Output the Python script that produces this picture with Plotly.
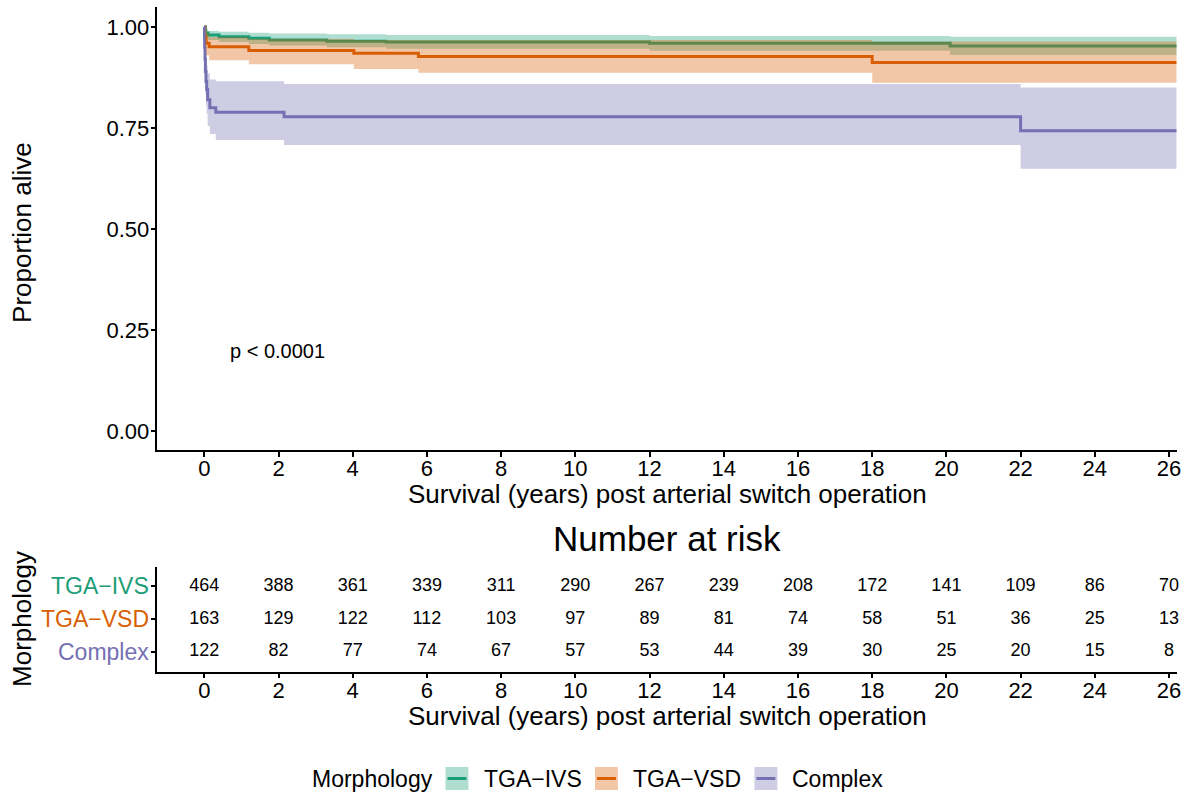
import plotly.graph_objects as go

# ---------------- data ----------------
groups = ["TGA\u2212IVS", "TGA\u2212VSD", "Complex"]
line_colors = ["#1B9E77", "#D95F02", "#7570B3"]
fill_colors = ["rgba(27,158,119,0.35)", "rgba(217,95,2,0.35)", "rgba(117,112,179,0.35)"]

ivs_time = [0, 0.03, 0.1, 0.4, 1.2, 1.75, 3.3, 4.9, 12.0, 20.1, 26.2]
ivs_surv = [1.0, 0.985, 0.980, 0.976, 0.972, 0.968, 0.965, 0.963, 0.960, 0.953, 0.953]
ivs_upper = [1.0, 0.995, 0.990, 0.988, 0.986, 0.984, 0.982, 0.980, 0.978, 0.976, 0.976]
ivs_lower = [1.0, 0.975, 0.968, 0.963, 0.958, 0.954, 0.950, 0.946, 0.941, 0.931, 0.931]

vsd_time = [0, 0.02, 0.05, 0.13, 1.2, 4.03, 5.77, 18.0, 26.2]
vsd_surv = [1.0, 0.975, 0.960, 0.951, 0.942, 0.935, 0.927, 0.912, 0.912]
vsd_upper = [1.0, 0.995, 0.985, 0.975, 0.970, 0.968, 0.968, 0.964, 0.964]
vsd_lower = [1.0, 0.950, 0.930, 0.918, 0.908, 0.896, 0.887, 0.862, 0.862]

cpx_time = [0, 0.005, 0.01, 0.02, 0.03, 0.045, 0.065, 0.09, 0.15, 0.31, 2.15, 22.0, 26.2]
cpx_surv = [1.0, 0.975, 0.95, 0.92, 0.89, 0.865, 0.845, 0.82, 0.80, 0.789, 0.778, 0.743, 0.743]
cpx_upper = [1.0, 1.0, 0.99, 0.97, 0.945, 0.925, 0.905, 0.885, 0.87, 0.866, 0.859, 0.850, 0.850]
cpx_lower = [1.0, 0.945, 0.91, 0.87, 0.835, 0.805, 0.785, 0.755, 0.735, 0.720, 0.708, 0.649, 0.649]

risk_times = [0, 2, 4, 6, 8, 10, 12, 14, 16, 18, 20, 22, 24, 26]
ivs_risk = [464, 388, 361, 339, 311, 290, 267, 239, 208, 172, 141, 109, 86, 70]
vsd_risk = [163, 129, 122, 112, 103, 97, 89, 81, 74, 58, 51, 36, 25, 13]
cpx_risk = [122, 82, 77, 74, 67, 57, 53, 44, 39, 30, 25, 20, 15, 8]

y_ticks = [0.0, 0.25, 0.5, 0.75, 1.0]
y_ticklabels = ["0.00", "0.25", "0.50", "0.75", "1.00"]
p_text = "p < 0.0001"

curves = [
    (ivs_time, ivs_surv, ivs_upper, ivs_lower),
    (vsd_time, vsd_surv, vsd_upper, vsd_lower),
    (cpx_time, cpx_surv, cpx_upper, cpx_lower),
]
risks = [ivs_risk, vsd_risk, cpx_risk]

# ---------------- layout geometry ----------------
W, H = 1187, 794
FONT = "Liberation Sans, Arial, sans-serif"
xdom = [158 / W, 1181 / W]
main_dom = [1 - 450 / H, 1 - 6.8 / H]
risk_dom = [1 - 671.7 / H, 1 - 566.7 / H]
xrange_ = [-1.262, 26.215]

fig = go.Figure()

# lines first (ribbons drawn on top, as in the reference)
for (t, s, u, l), g, c in zip(curves, groups, line_colors):
    fig.add_trace(go.Scatter(x=t, y=s, mode="lines", line=dict(color=c, width=3, shape="hv"),
                             name=g, showlegend=False, xaxis="x", yaxis="y", hoverinfo="skip"))
for (t, s, u, l), g, fc in zip(curves, groups, fill_colors):
    fig.add_trace(go.Scatter(x=t, y=l, mode="lines", line=dict(width=0, shape="hv"),
                             showlegend=False, xaxis="x", yaxis="y", hoverinfo="skip"))
    fig.add_trace(go.Scatter(x=t, y=u, mode="lines", line=dict(width=0, shape="hv"),
                             fill="tonexty", fillcolor=fc, showlegend=False,
                             xaxis="x", yaxis="y", hoverinfo="skip"))

# risk table
for i, (r, g) in enumerate(zip(risks, groups)):
    fig.add_trace(go.Scatter(x=risk_times, y=[3 - i] * len(r), mode="text", cliponaxis=False,
                             text=[str(v) for v in r], textfont=dict(size=18, color="black", family=FONT),
                             showlegend=False, xaxis="x2", yaxis="y2", hoverinfo="skip"))

axis_common = dict(showgrid=False, zeroline=False, showline=True, linecolor="black", linewidth=1.5,
                   ticks="outside", ticklen=5, tickwidth=1.5, tickcolor="black",
                   tickfont=dict(size=22, color="black", family=FONT))

fig.update_layout(
    width=W, height=H, margin=dict(l=0, r=0, t=0, b=0),
    paper_bgcolor="white", plot_bgcolor="white",
    font=dict(family=FONT, color="black"),
    xaxis=dict(domain=xdom, range=xrange_, anchor="y", tickvals=risk_times,
               ticklabelstandoff=-7, **axis_common),
    yaxis=dict(domain=main_dom, range=[-0.047, 1.05], anchor="x", tickvals=y_ticks,
               ticktext=y_ticklabels, ticklabelstandoff=-3, **axis_common),
    xaxis2=dict(domain=xdom, range=xrange_, anchor="y2", tickvals=risk_times,
                ticklabelstandoff=-7, **axis_common),
    yaxis2=dict(domain=risk_dom, range=[0.4, 3.6], anchor="x2", tickvals=[1, 2, 3],
                showticklabels=False, **{k: v for k, v in axis_common.items() if k != "tickfont"}),
    showlegend=False,
)

TITLE = 26
ann = []
ann.append(dict(text="Proportion alive", x=22 / W, y=1 - 232 / H, xref="paper", yref="paper",
                textangle=-90, showarrow=False, font=dict(size=TITLE), xanchor="center", yanchor="middle"))
ann.append(dict(text="Survival (years) post arterial switch operation", x=669.5 / W, y=1 - 494 / H,
                xref="paper", yref="paper", showarrow=False, font=dict(size=TITLE),
                xanchor="center", yanchor="middle"))
ann.append(dict(text=p_text, x=0.64, y=0.198, xref="x", yref="y", showarrow=False,
                font=dict(size=20), xanchor="left", yanchor="middle"))
ann.append(dict(text="Number at risk", x=669.5 / W, y=1 - 538 / H, xref="paper", yref="paper",
                showarrow=False, font=dict(size=35), xanchor="center", yanchor="middle"))
ann.append(dict(text="Morphology", x=22 / W, y=1 - 619 / H, xref="paper", yref="paper",
                textangle=-90, showarrow=False, font=dict(size=TITLE), xanchor="center", yanchor="middle"))
ann.append(dict(text="Survival (years) post arterial switch operation", x=669.5 / W, y=1 - 716 / H,
                xref="paper", yref="paper", showarrow=False, font=dict(size=TITLE),
                xanchor="center", yanchor="middle"))
for i, (g, c) in enumerate(zip(groups, line_colors)):
    ann.append(dict(text=g, x=152 / W, y=3 - i, xref="paper", yref="y2", showarrow=False,
                    font=dict(size=23, color=c), xanchor="right", yanchor="middle"))

# legend (manual, ggplot-style keys)
leg_y = 1 - 779 / H
ann.append(dict(text="Morphology", x=311 / W, y=leg_y, xref="paper", yref="paper", showarrow=False,
                font=dict(size=23), xanchor="left", yanchor="middle"))
shapes = []
key_x = [447, 597, 757]
text_x = [484, 633, 793]
for g, c, fc, kx, tx in zip(groups, line_colors, fill_colors, key_x, text_x):
    shapes.append(dict(type="rect", xref="paper", yref="paper", x0=kx / W, x1=(kx + 23) / W,
                       y0=1 - 790 / H, y1=1 - 767 / H, fillcolor=fc, line=dict(width=0)))
    shapes.append(dict(type="line", xref="paper", yref="paper", x0=(kx + 2) / W, x1=(kx + 21) / W,
                       y0=1 - 778.5 / H, y1=1 - 778.5 / H, line=dict(color=c, width=3)))
    ann.append(dict(text=g, x=tx / W, y=leg_y, xref="paper", yref="paper", showarrow=False,
                    font=dict(size=23), xanchor="left", yanchor="middle"))

fig.update_layout(annotations=ann, shapes=shapes)
fig.write_html("out.html")
